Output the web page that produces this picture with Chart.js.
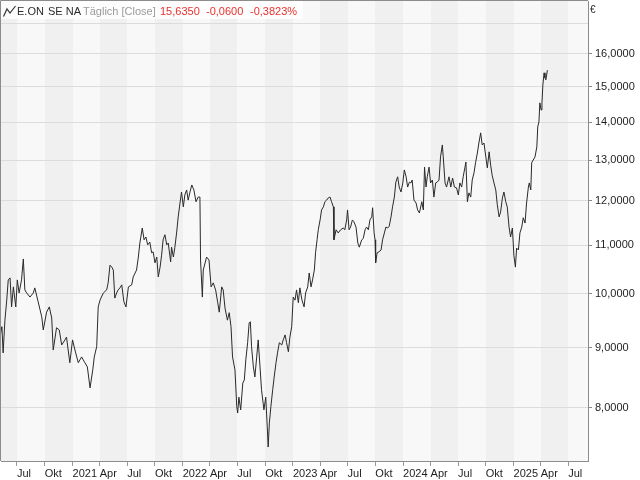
<!DOCTYPE html>
<html>
<head>
<meta charset="utf-8">
<script src="https://cdn.jsdelivr.net/npm/chart.js@4"></script>
<style>
  html, body { margin: 0; padding: 0; background: #ffffff; }
  #wrap { position: relative; width: 640px; height: 480px; overflow: hidden; }
  canvas { position: absolute; left: 0; top: 0; }
  #hdrbox { position: absolute; left: 1px; top: 1px; width: 302px; height: 18px; background: rgba(255,255,255,0.8); }
  .h { position: absolute; top: 4px; font-family: "Liberation Sans", Arial, sans-serif; font-size: 11px; line-height: 14px; white-space: nowrap; }
  .dark { color: #2b2b2b; }
  .grey { color: #9a9a9a; }
  .red { color: #e8322f; }
  #icon { position: absolute; left: 2px; top: 4px; }
</style>
</head>
<body>
<div id="wrap">
  <canvas id="c" width="640" height="480"></canvas>
  <div id="hdrbox"></div>
  <svg id="icon" width="15" height="14" viewBox="0 0 15 14"><polyline points="1.5,12.5 5,5 8,9 13.5,2" fill="none" stroke="#333" stroke-width="1.2"/></svg>
  <span class="h dark" style="left:17px">E.ON</span>
  <span class="h dark" style="left:48px">SE NA</span>
  <span class="h grey" style="left:83px">Täglich [Close]</span>
  <span class="h red" style="left:160px">15,6350</span>
  <span class="h red" style="left:206px">-0,0600</span>
  <span class="h red" style="left:250px">-0,3823%</span>
  <span class="h dark" style="left:590px; top:3px; font-size:10px">€</span>
</div>
<script>
// ---- data ----
const dates = [
'2020-05-07','2020-05-12','2020-05-16','2020-05-22','2020-05-28','2020-06-02','2020-06-08','2020-06-13','2020-06-19','2020-06-27',
'2020-07-02','2020-07-08','2020-07-16','2020-07-22','2020-07-27','2020-08-02','2020-08-13','2020-08-24','2020-08-29','2020-09-09',
'2020-09-21','2020-09-26','2020-10-07','2020-10-16','2020-10-24','2020-10-29','2020-11-09','2020-11-18','2020-11-26','2020-12-07',
'2020-12-12','2020-12-23','2021-01-01','2021-01-09','2021-01-20','2021-01-31','2021-02-11','2021-02-19','2021-02-28','2021-03-09',
'2021-03-14','2021-03-22','2021-03-27','2021-04-02',
'2021-04-13','2021-04-24','2021-04-29','2021-05-05','2021-05-11','2021-05-16','2021-05-21','2021-05-27','2021-06-01','2021-06-07',
'2021-06-13','2021-06-20','2021-06-27','2021-07-05','2021-07-16','2021-07-21','2021-08-01','2021-08-07','2021-08-12','2021-08-20',
'2021-08-26','2021-09-01','2021-09-07','2021-09-14','2021-09-20','2021-09-25','2021-10-01','2021-10-07','2021-10-12','2021-10-18',
'2021-10-23','2021-10-28','2021-11-03','2021-11-09','2021-11-14','2021-11-22','2021-11-25','2021-12-01','2021-12-06','2021-12-12',
'2021-12-17','2021-12-23','2021-12-28','2022-01-03','2022-01-08','2022-01-14','2022-01-19','2022-01-25','2022-01-31','2022-02-07',
'2022-02-14','2022-02-21','2022-02-27','2022-03-01','2022-03-07','2022-03-10','2022-03-21','2022-03-29','2022-04-05','2022-04-12',
'2022-04-20','2022-04-27','2022-05-02',
'2022-05-10','2022-05-15','2022-05-21','2022-05-29','2022-06-04','2022-06-10','2022-06-15','2022-06-23','2022-06-29','2022-07-02',
'2022-07-06','2022-07-12','2022-07-19','2022-07-24','2022-07-29','2022-08-04','2022-08-09','2022-08-13','2022-08-17','2022-08-23',
'2022-08-28','2022-09-03','2022-09-08','2022-09-14','2022-09-19','2022-09-27','2022-10-03','2022-10-08','2022-10-11','2022-10-15',
'2022-10-20','2022-10-26','2022-10-31','2022-11-06','2022-11-11','2022-11-17','2022-11-25','2022-11-30','2022-12-06','2022-12-11',
'2022-12-17','2022-12-22','2022-12-28','2023-01-02','2023-01-08','2023-01-13','2023-01-19','2023-01-24','2023-01-31','2023-02-07',
'2023-02-12',
'2023-02-19','2023-02-24','2023-03-02','2023-03-07','2023-03-13','2023-03-17','2023-03-22','2023-03-26','2023-04-01','2023-04-06',
'2023-04-12','2023-04-17','2023-04-23','2023-04-28','2023-05-04','2023-05-09','2023-05-15','2023-05-17','2023-05-24','2023-05-31',
'2023-06-08','2023-06-17','2023-06-22','2023-06-28','2023-07-01','2023-07-06','2023-07-11','2023-07-17','2023-07-22','2023-07-29',
'2023-08-04','2023-08-09','2023-08-17','2023-08-22','2023-08-28','2023-09-02','2023-09-08','2023-09-13','2023-09-19','2023-09-22',
'2023-09-27','2023-09-30','2023-10-02','2023-10-07','2023-10-13','2023-10-20','2023-10-25','2023-10-31','2023-11-05','2023-11-11',
'2023-11-16','2023-11-22','2023-11-27','2023-12-03','2023-12-08','2023-12-14','2023-12-19','2023-12-25','2023-12-31','2024-01-05',
'2024-01-11','2024-01-16','2024-01-22','2024-01-27','2024-01-31','2024-02-06','2024-02-13','2024-02-18','2024-02-24',
'2024-03-03','2024-03-08','2024-03-12','2024-03-17','2024-03-21','2024-03-27','2024-04-01','2024-04-07','2024-04-12','2024-04-18',
'2024-04-23','2024-04-29','2024-05-04','2024-05-10','2024-05-13','2024-05-19','2024-05-24','2024-06-01','2024-06-07','2024-06-13',
'2024-06-19','2024-06-26','2024-07-02','2024-07-07','2024-07-13','2024-07-18','2024-07-24','2024-07-27','2024-08-01','2024-08-06',
'2024-08-12','2024-08-17','2024-08-23','2024-08-28','2024-09-03','2024-09-08','2024-09-14','2024-09-19','2024-09-25','2024-10-01',
'2024-10-06','2024-10-12',
'2024-10-17','2024-10-22','2024-10-28','2024-11-03','2024-11-08','2024-11-14','2024-11-19','2024-11-25','2024-11-30','2024-12-06',
'2024-12-11','2024-12-17','2024-12-22','2024-12-28','2025-01-02','2025-01-07','2025-01-11','2025-01-17','2025-01-22','2025-01-28',
'2025-02-02','2025-02-08','2025-02-13','2025-02-19','2025-02-22','2025-02-27','2025-03-02','2025-03-07','2025-03-13','2025-03-19',
'2025-03-22','2025-03-26','2025-03-29','2025-04-02','2025-04-05','2025-04-08','2025-04-12','2025-04-15','2025-04-18','2025-04-23'
];
const closes = [
9.23, 9.38, 8.91, 9.50, 9.88, 10.28, 10.32, 9.75, 10.14, 9.75,
10.28, 10.02, 10.28, 10.71, 10.08, 10.02, 9.94, 10.02, 10.12, 9.85,
9.56, 9.32, 9.65, 9.75, 9.54, 8.96, 9.36, 9.32, 9.05, 9.14,
9.19, 8.74, 9.14, 8.96, 8.74, 8.84, 8.74, 8.67, 8.32, 8.62,
8.84, 9.02, 9.75, 9.88,
10.02, 10.08, 10.22, 10.58, 10.54, 10.48, 9.92, 10.02, 10.08, 10.12,
10.18, 9.85, 9.75, 10.14, 10.18, 10.34, 10.48, 10.75, 11.05, 11.38,
11.12, 11.18, 11.01, 11.07, 10.84, 10.86, 10.63, 10.75, 10.34, 10.54,
10.79, 11.12, 11.23, 11.01, 11.05, 10.65, 10.96, 10.75, 10.96, 11.29,
11.63, 11.95, 12.21, 11.86, 12.14, 12.26, 12.02, 12.21, 12.38, 12.26,
11.98, 12.09, 12.09, 10.69, 9.94, 10.48, 10.75, 10.69, 10.14, 10.22,
10.08, 9.83, 9.65,
10.14, 10.08, 9.73, 9.50, 9.64, 9.38, 8.84, 8.62, 8.02, 7.92,
8.17, 7.97, 8.40, 8.45, 8.79, 9.09, 9.45, 9.47, 9.02, 8.67,
8.50, 8.84, 9.14, 8.67, 8.29, 7.97, 8.17, 7.71, 7.41, 7.77,
8.02, 8.29, 8.50, 8.74, 8.91, 9.09, 9.05, 9.14, 9.23, 9.09,
8.93, 9.19, 9.38, 9.94, 9.88, 10.08, 9.83, 10.12, 9.88, 9.75,
10.02,
10.14, 10.42, 10.14, 10.28, 10.48, 10.84, 11.12, 11.34, 11.56, 11.79,
11.86, 11.98, 12.02, 12.07, 12.09, 11.98, 11.86, 11.12, 11.34, 11.27,
11.34, 11.38, 11.34, 11.56, 11.79, 11.34, 11.40, 11.56, 11.52, 11.40,
11.05, 10.96, 11.12, 11.15, 11.34, 11.40, 11.34, 11.56, 11.63, 11.84,
11.27, 11.12, 10.63, 10.84, 10.86, 10.90, 11.12, 11.27, 11.40, 11.38,
11.42, 11.63, 11.86, 12.09, 12.45, 12.58, 12.33, 12.21, 12.43, 12.75,
12.58, 12.33, 12.45, 12.43, 12.50, 12.02, 11.95, 11.79, 11.72,
11.98, 11.79, 12.82, 12.33, 12.58, 12.82, 12.43, 12.50, 12.09, 12.43,
12.45, 12.50, 13.08, 13.39, 13.08, 12.43, 12.33, 12.58, 12.33, 12.55,
12.33, 12.31, 12.14, 12.43, 12.33, 12.58, 12.82, 12.95, 11.98, 12.19,
12.09, 12.50, 12.68, 12.93, 13.18, 13.44, 13.71, 13.39, 13.44, 13.08,
12.80, 13.21,
12.87, 12.62, 12.43, 12.26, 11.91, 11.63, 11.74, 12.07, 12.21, 11.98,
11.86, 11.40, 11.18, 11.38, 10.79, 10.54, 10.94, 10.90, 11.27, 11.40,
11.61, 11.49, 11.95, 12.33, 12.43, 12.26, 12.93, 13.00, 13.08, 13.34,
13.87, 14.01, 14.54, 14.34, 14.54, 15.06, 15.42, 15.27, 15.21, 15.50
];
const yTickValues = [8, 9, 10, 11, 12, 13, 14, 15, 16, 17];
const quarterMonthLabels = { 3: 'Apr', 6: 'Jul', 9: 'Okt' };   // January shows the year
const firstTickYear = 2020, lastTickYear = 2025;
const axisStart = '2020-05-09', axisEnd = '2025-09-04T12:00:00Z';

// ---- helpers ----
const xMin = Date.parse(axisStart);
const xMax = Date.parse(axisEnd);
const quarterTicks = [];
for (let y = firstTickYear; y <= lastTickYear; y++) {
  for (let m = 0; m < 12; m += 3) {
    const t = Date.UTC(y, m, 1);
    if (t >= xMin && t <= xMax) quarterTicks.push(t);
  }
}
function quarterLabel(v) {
  const d = new Date(v);
  const m = d.getUTCMonth();
  return m === 0 ? String(d.getUTCFullYear()) : quarterMonthLabels[m];
}
function fmtPrice(v) { return v.toFixed(4).replace('.', ','); }

const FONT = '"Liberation Sans", Arial, sans-serif';

const bandsPlugin = {
  id: 'bands',
  beforeDraw(chart) {
    const { ctx, chartArea: a, scales: { x } } = chart;
    ctx.save();
    ctx.beginPath();
    ctx.rect(a.left, a.top, a.right - a.left, a.bottom - a.top);
    ctx.clip();
    ctx.fillStyle = '#f8f8f8';
    ctx.fillRect(a.left, a.top, a.right - a.left, a.bottom - a.top);
    for (let y = firstTickYear; y <= lastTickYear; y++) {
      for (let m = 0; m < 12; m += 3) {
        const s = Date.UTC(y, m, 1), e = Date.UTC(y, m + 3, 1);
        const x0 = x.getPixelForValue(s), x1 = x.getPixelForValue(e);
        ctx.fillStyle = (m === 3 || m === 9) ? '#f0f0f0' : '#f8f8f8';
        ctx.fillRect(Math.round(x0), a.top, Math.round(x1) - Math.round(x0), a.bottom - a.top);
      }
    }
    ctx.restore();
  }
};

const framePlugin = {
  id: 'frame',
  afterDraw(chart) {
    const { ctx, chartArea: a } = chart;
    ctx.save();
    ctx.strokeStyle = '#8c8c8c';
    ctx.lineWidth = 1;
    ctx.beginPath();
    ctx.moveTo(a.left - 0.5, a.bottom);
    ctx.lineTo(a.left - 0.5, a.top - 0.5);
    ctx.lineTo(a.right, a.top - 0.5);
    ctx.stroke();
    ctx.restore();
  }
};

new Chart(document.getElementById('c'), {
  type: 'line',
  data: {
    datasets: [{
      data: dates.map((d, i) => ({ x: Date.parse(d), y: closes[i] })),
      borderColor: '#2a2a2a',
      borderWidth: 1,
      pointRadius: 0,
      tension: 0,
      fill: false
    }]
  },
  options: {
    responsive: false,
    animation: false,
    devicePixelRatio: 1,
    layout: { padding: { top: 1, left: 1, right: 0, bottom: 0 } },
    plugins: { legend: { display: false }, tooltip: { enabled: false } },
    scales: {
      x: {
        type: 'linear',
        min: xMin,
        max: xMax,
        afterBuildTicks: s => { s.ticks = quarterTicks.map(v => ({ value: v })); },
        afterFit: s => { s.height = 19; s.paddingLeft = 0; s.paddingRight = 0; },
        grid: { drawOnChartArea: false, drawTicks: true, tickLength: 5, color: '#999', tickColor: '#999' },
        border: { display: true, color: '#8c8c8c' },
        ticks: {
          align: 'start', padding: 1, color: '#1e1e1e', maxRotation: 0, autoSkip: false,
          font: { family: FONT, size: 11 },
          callback: v => quarterLabel(v)
        }
      },
      y: {
        type: 'logarithmic',
        position: 'right',
        min: 7.21,
        max: 17.75,
        afterBuildTicks: s => { s.ticks = yTickValues.map(v => ({ value: v })); },
        afterFit: s => { s.width = 52; s.paddingTop = 0; s.paddingBottom = 0; },
        grid: {
          color: '#dcdcdc',
          tickLength: 4,
          tickColor: c => (c.tick && c.tick.value === 17) ? 'rgba(0,0,0,0)' : '#888'
        },
        border: { display: true, color: '#8c8c8c' },
        ticks: {
          crossAlign: 'near', padding: 3, color: '#1e1e1e',
          font: { family: FONT, size: 11 },
          callback: v => (v === 17 ? '' : fmtPrice(v))
        }
      }
    }
  },
  plugins: [bandsPlugin, framePlugin]
});
</script>
</body>
</html>
